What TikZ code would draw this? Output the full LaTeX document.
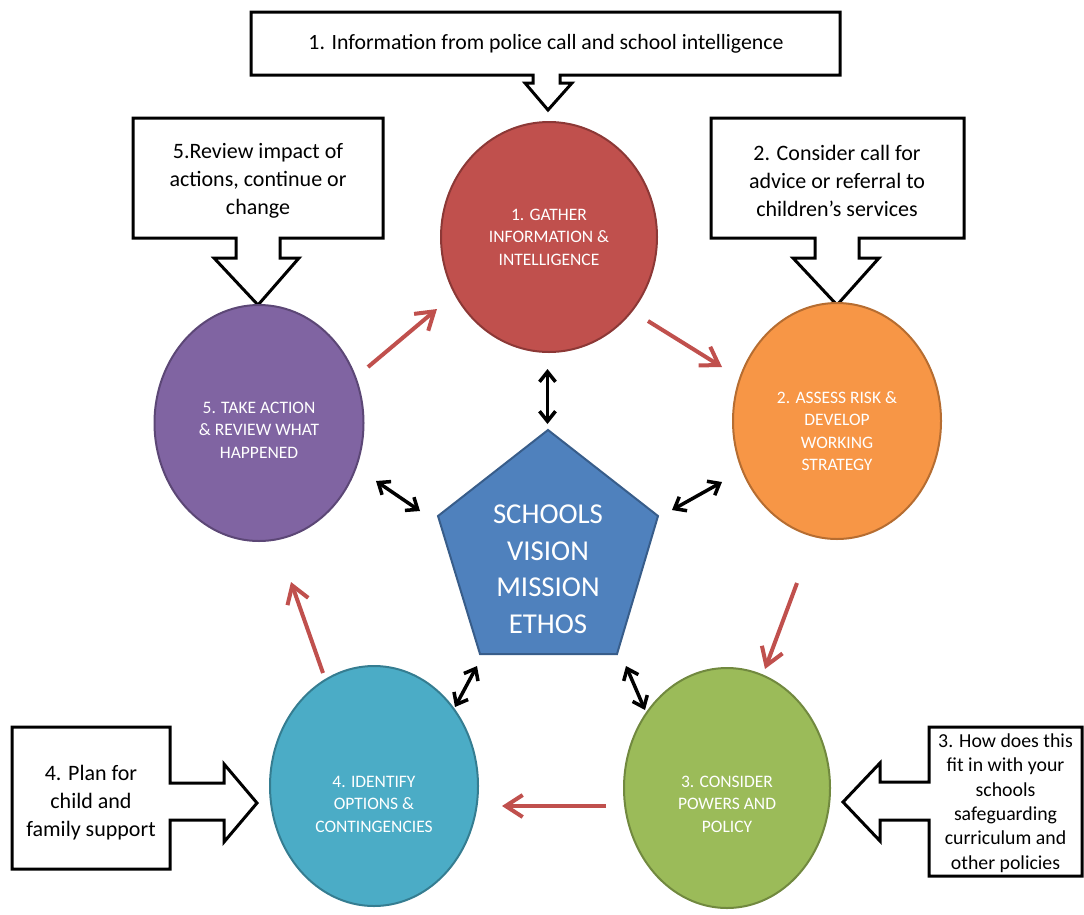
\documentclass[tikz,border=0pt]{standalone}
\usepackage{fontspec}
\setmainfont{Carlito}
\usetikzlibrary{shapes.geometric,arrows.meta}
\definecolor{fred}{HTML}{C0504D}\definecolor{bred}{HTML}{8C3836}
\definecolor{forange}{HTML}{F79646}\definecolor{borange}{HTML}{B66D31}
\definecolor{fgreen}{HTML}{9BBB59}\definecolor{bgreen}{HTML}{71893F}
\definecolor{fteal}{HTML}{4BACC6}\definecolor{bteal}{HTML}{357D91}
\definecolor{fpurple}{HTML}{8064A2}\definecolor{bpurple}{HTML}{5C4776}
\definecolor{fblue}{HTML}{4F81BD}\definecolor{bblue}{HTML}{385D8A}
\begin{document}
\begin{tikzpicture}[x=1pt,y=-1pt,
  circ/.style={ellipse, line width=2pt, inner sep=0pt},
  circtext/.style={text=white, align=center, font=\fontsize{17.5}{22.5}\selectfont},
  callout/.style={draw=black, fill=white, line width=3pt, line join=miter},
  ctext/.style={align=center, font=\fontsize{22}{28}\selectfont},
  stext/.style={align=center, font=\fontsize{19.8}{24.4}\selectfont},
  redarrow/.style={draw=fred, line width=4pt, -{Straight Barb[length=17pt,width=22pt]}},
  dblarrow/.style={draw=black, line width=3.5pt, {Straight Barb[length=10pt,width=16pt]}-{Straight Barb[length=10pt,width=16pt]}}
]
\useasboundingbox (0,0) rectangle (1084,914);

% callouts
\draw[callout] (251,12) -- (840,12) -- (840,75) -- (560,75) -- (560,83) -- (572,83) -- (548,110) -- (525,83) -- (533,83) -- (533,75) -- (251,75) -- cycle;
\node[align=center, font=\fontsize{21.8}{28}\selectfont] (t1) at (546,44) {1. Information from police call and school intelligence};

\draw[callout] (133,118) -- (383,118) -- (383,238) -- (280,238) -- (280,258) -- (299,258) -- (258,305) -- (214,258) -- (236,258) -- (236,238) -- (133,238) -- cycle;
\node[ctext] (t5) at (258,181) {5.Review impact of\\actions, continue or\\change};

\draw[callout] (711,118) -- (964,118) -- (964,238) -- (859,238) -- (859,258) -- (879,258) -- (837,305) -- (793,258) -- (815,258) -- (815,238) -- (711,238) -- cycle;
\node[ctext] (t2) at (837,181) {2. Consider call for\\advice or referral to\\children’s services};

\draw[callout] (12,727) -- (170,727) -- (170,783) -- (224,783) -- (224,764) -- (257,803) -- (224,842) -- (224,820) -- (170,820) -- (170,869) -- (12,869) -- cycle;
\node[ctext] (t4) at (91,803) {4. Plan for\\child and\\family support};

\draw[callout] (1082,727) -- (929,727) -- (929,782) -- (880,782) -- (880,763) -- (843,802) -- (880,841) -- (880,820) -- (929,820) -- (929,876) -- (1082,876) -- cycle;
\node[stext] (t3) at (1005.5,803) {3. How does this\\fit in with your\\schools\\safeguarding\\curriculum and\\other policies};

% circles
\node[circ, fill=fred, draw=bred, minimum width=216pt, minimum height=230pt] (c1) at (549,237) {};
\node[circ, fill=forange, draw=borange, minimum width=208pt, minimum height=236pt] (c2) at (837,421) {};
\node[circ, fill=fgreen, draw=bgreen, minimum width=206pt, minimum height=240pt] (c3) at (727,788) {};
\node[circ, fill=fteal, draw=bteal, minimum width=208pt, minimum height=240pt] (c4) at (374,786) {};
\node[circ, fill=fpurple, draw=bpurple, minimum width=209pt, minimum height=236pt] (c5) at (259,423) {};

\node[circtext] (l1) at (c1.center) {1. GATHER\\INFORMATION \&\\INTELLIGENCE};
\node[circtext] (l2) at ([yshift=-10pt]c2.center) {2. ASSESS RISK \&\\DEVELOP\\WORKING\\STRATEGY};
\node[circtext] (l3) at ([yshift=-16pt]c3.center) {3. CONSIDER\\POWERS AND\\POLICY};
\node[circtext] (l4) at ([yshift=-18pt]c4.center) {4. IDENTIFY\\OPTIONS \&\\CONTINGENCIES};
\node[circtext] (l5) at ([yshift=-7pt]c5.center) {5. TAKE ACTION\\\& REVIEW WHAT\\HAPPENED};

% pentagon
\coordinate (pa) at (548,430);
\coordinate (pb) at (658,516);
\coordinate (pc) at (617,654);
\coordinate (pd) at (480,654);
\coordinate (pe) at (438,516);
\draw[fill=fblue, draw=bblue, line width=2pt, line join=miter] (pa) -- (pb) -- (pc) -- (pd) -- (pe) -- cycle;
\node[text=white, align=center, font=\fontsize{28.8}{36.5}\selectfont] (p) at (548,569) {SCHOOLS\\VISION\\MISSION\\ETHOS};

% red cycle arrows
\coordinate (r51) at (368,367); \coordinate (r51e) at (437,309);
\coordinate (r12) at (648,321); \coordinate (r12e) at (722,367);
\coordinate (r23) at (797,583); \coordinate (r23e) at (765,669);
\coordinate (r34) at (606,806); \coordinate (r34e) at (502,806);
\coordinate (r45) at (323,673); \coordinate (r45e) at (291,582);
\draw[redarrow] (r51) -- (r51e);
\draw[redarrow] (r12) -- (r12e);
\draw[redarrow] (r23) -- (r23e);
\draw[redarrow] (r34) -- (r34e);
\draw[redarrow] (r45) -- (r45e);

% black double arrows
\coordinate (b1a) at (547.5,369); \coordinate (b1b) at (547.5,424);
\coordinate (b5a) at (376,481); \coordinate (b5b) at (420,511);
\coordinate (b2a) at (722,482); \coordinate (b2b) at (672,510);
\coordinate (b4a) at (455,707); \coordinate (b4b) at (477,666);
\coordinate (b3a) at (645,710); \coordinate (b3b) at (626,666);
\draw[dblarrow] (b1a) -- (b1b);
\draw[dblarrow] (b5a) -- (b5b);
\draw[dblarrow] (b2a) -- (b2b);
\draw[dblarrow] (b4a) -- (b4b);
\draw[dblarrow] (b3a) -- (b3b);
\end{tikzpicture}
\end{document}
